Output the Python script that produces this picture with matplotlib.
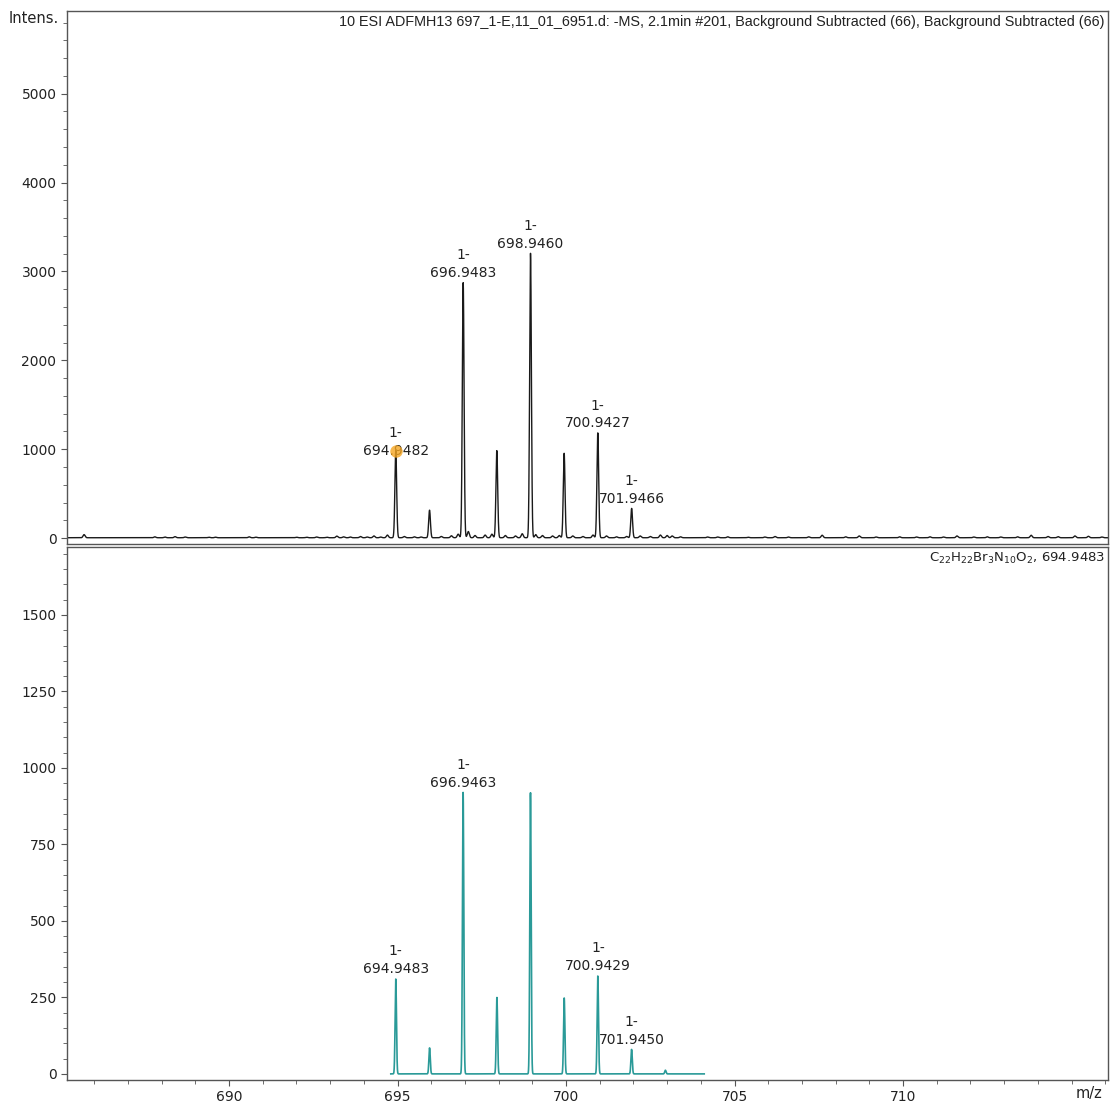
import numpy as np
import matplotlib
matplotlib.use('Agg')
import matplotlib.pyplot as plt
from matplotlib.ticker import MultipleLocator

# Measured spectrum: main isotope peaks (m/z, intensity)
meas_mz = [694.9482, 695.950, 696.9483, 697.946, 698.9460, 699.944, 700.9427, 701.9466]
meas_int = [980, 310, 2870, 980, 3200, 950, 1180, 330]
meas_labels = ['694.9482', None, '696.9483', None, '698.9460', None, '700.9427', '701.9466']

# small background bumps
noise_mz = [685.7, 687.8, 688.1, 688.4, 688.7, 689.4, 689.6, 690.6, 690.8, 692.0,
            692.3, 692.6, 692.9, 693.2, 693.4, 693.6, 693.9, 694.1, 694.3, 694.5,
            694.7, 695.2, 695.5, 695.7, 696.3, 696.6, 696.8, 697.1, 697.3, 697.6,
            697.8, 698.2, 698.5, 698.7, 699.1, 699.3, 699.6, 699.8, 700.2, 700.5,
            700.8, 701.2, 701.5, 701.8, 702.2, 702.5, 702.8, 703.0, 703.15, 703.4,
            704.2, 704.5, 704.8, 705.4, 705.9, 706.2, 706.6, 707.2, 707.6, 708.3,
            708.7, 709.2, 709.9, 710.4, 710.8, 711.2, 711.6, 712.1, 712.5, 712.9,
            713.4, 713.8, 714.3, 714.6, 715.1, 715.5, 715.9]
noise_int = [35, 10, 8, 12, 8, 6, 6, 10, 6, 6,
             6, 8, 6, 18, 10, 8, 14, 8, 20, 8,
             30, 14, 10, 8, 14, 22, 40, 70, 25, 30,
             40, 25, 20, 45, 35, 25, 20, 25, 20, 14,
             30, 20, 10, 14, 20, 14, 30, 25, 20, 10,
             8, 8, 10, 6, 8, 14, 8, 10, 28, 10,
             20, 8, 10, 8, 10, 8, 20, 8, 10, 8,
             10, 28, 14, 12, 20, 16, 8]

# Simulated isotope pattern C22H22Br3N10O2
sim_mz = [694.9483, 695.951, 696.9463, 697.949, 698.945, 699.946, 700.9429, 701.9450, 702.948]
sim_int = [310, 85, 920, 250, 920, 248, 320, 80, 12]
sim_labels = ['694.9483', None, '696.9463', None, None, None, '700.9429', '701.9450', None]

header = '10 ESI ADFMH13 697_1-E,11_01_6951.d: -MS, 2.1min #201, Background Subtracted (66), Background Subtracted (66)'
formula = r'C$_{22}$H$_{22}$Br$_{3}$N$_{10}$O$_{2}$, 694.9483'

xlim = (685.19, 716.08)


def profile(x, centers, heights, sigma):
    y = np.zeros_like(x)
    for c, h in zip(centers, heights):
        y += h * np.exp(-0.5 * ((x - c) / sigma) ** 2)
    return y


x = np.arange(xlim[0], xlim[1], 0.002)
y_top = profile(x, meas_mz, meas_int, 0.026) + profile(x, noise_mz, noise_int, 0.03) + 4

xs = np.arange(694.8, 704.1, 0.002)
y_sim = profile(xs, sim_mz, sim_int, 0.02)

fig = plt.figure(figsize=(11.15, 11.06), dpi=100)
ax1 = fig.add_axes([0.060, 0.5081, 0.9337, 0.4819])
ax2 = fig.add_axes([0.060, 0.0235, 0.9337, 0.4819])

spine_col = '#555555'
txt_col = '#222222'

for ax in (ax1, ax2):
    for s in ax.spines.values():
        s.set_color(spine_col)
        s.set_linewidth(1.0)
    ax.set_xlim(*xlim)
    ax.tick_params(which='both', direction='out', length=4, color=spine_col,
                   labelsize=10, labelcolor=txt_col)
    ax.tick_params(which='minor', length=3)

# top panel: measured spectrum
ax1.plot(x, y_top, color='#1a1a1a', lw=1.0)
ax1.set_ylim(-67, 5930)
ax1.yaxis.set_major_locator(MultipleLocator(1000))
ax1.yaxis.set_minor_locator(MultipleLocator(200))
ax1.tick_params(axis='x', which='both', bottom=False, labelbottom=False)
ax1.scatter([meas_mz[0]], [meas_int[0]], s=80, color='#f5a623', alpha=0.8, zorder=5, lw=0)
for i, (mz, h, lab) in enumerate(zip(meas_mz, meas_int, meas_labels)):
    if lab:
        dy = -5 if i == 0 else 2
        ax1.annotate('1-\n' + lab, (mz, h), xytext=(0, dy), textcoords='offset points',
                     ha='center', va='bottom', fontsize=10, color=txt_col, linespacing=1.35)
ax1.text(0.997, 0.992, header, transform=ax1.transAxes, ha='right', va='top',
         fontsize=10.4, family='Liberation Sans', color=txt_col)
fig.text(0.053, 0.983, 'Intens.', ha='right', va='center', fontsize=10.5, color=txt_col)

# bottom panel: simulated pattern
ax2.plot(xs, y_sim, color='#2a9a98', lw=1.2)
ax2.set_ylim(-20, 1722)
ax2.yaxis.set_major_locator(MultipleLocator(250))
ax2.yaxis.set_minor_locator(MultipleLocator(50))
ax2.xaxis.set_major_locator(MultipleLocator(5))
ax2.xaxis.set_minor_locator(MultipleLocator(1))
ax2.set_xticks([690, 695, 700, 705, 710])
for mz, h, lab in zip(sim_mz, sim_int, sim_labels):
    if lab:
        ax2.annotate('1-\n' + lab, (mz, h), xytext=(0, 2), textcoords='offset points',
                     ha='center', va='bottom', fontsize=10, color=txt_col, linespacing=1.35)
ax2.text(0.997, 0.992, formula, transform=ax2.transAxes, ha='right', va='top',
         fontsize=9.5, color=txt_col)
fig.text(0.989, 0.011, 'm/z', ha='right', va='center', fontsize=10.5, color=txt_col)

fig.savefig('out.png', dpi=100)
